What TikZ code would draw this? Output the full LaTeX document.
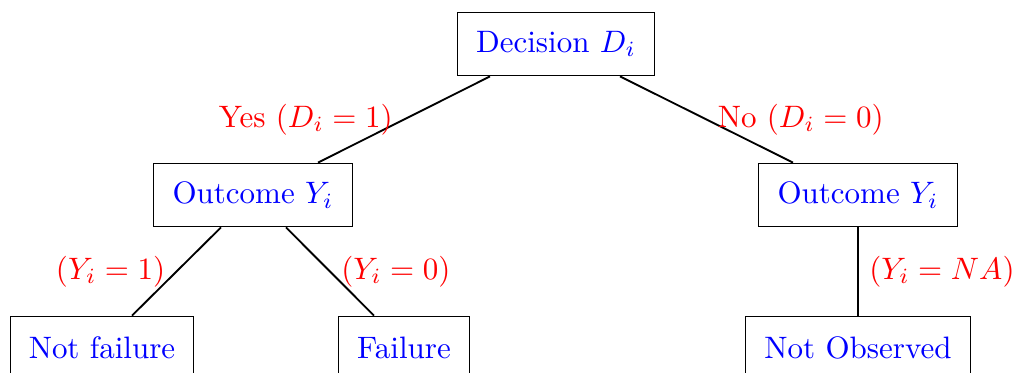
\documentclass[tikz,border=0pt]{standalone}
\usetikzlibrary{calc}
\begin{document}
\begin{tikzpicture}[x=0.3226pt, y=-0.3226pt,
        box/.style={draw, line width=0.3pt, text=blue, minimum height=20.6pt, inner xsep=6pt},
        lab/.style={text=red},
        edge/.style={semithick}]
        \useasboundingbox (0,0) rectangle (1016,372);
        \node[box] (dec) at (556,44) {Decision $D_i$};
        \node[box] (outl) at (253,195) {Outcome $Y_i$};
        \node[box] (outr) at (858,195) {Outcome $Y_i$};
        \node[box] (nofail) at (102,348) {Not failure};
        \node[box] (fail) at (404,348) {Failure};
        \node[box] (noobs) at (858,348) {Not Observed};
        \draw[edge] ($(dec.south)+(-66,0)$) -- node[lab, midway, left] {Yes ($D_i = 1$)} ($(outl.north)+(65,0)$);
        \draw[edge] ($(dec.south)+(64,0)$) -- node[lab, midway, right] {No ($D_i = 0$)} ($(outr.north)+(-65,0)$);
        \draw[edge] ($(outl.south)+(-32,0)$) -- node[lab, midway, left] {$(Y_i = 1)$} ($(nofail.north)+(30,0)$);
        \draw[edge] ($(outl.south)+(33,0)$) -- node[lab, midway, right] {$(Y_i = 0)$} ($(fail.north)+(-30,0)$);
        \draw[edge] (outr.south) -- node[lab, midway, right] {$(Y_i = NA)$} (noobs.north);
    \end{tikzpicture}
\end{document}
